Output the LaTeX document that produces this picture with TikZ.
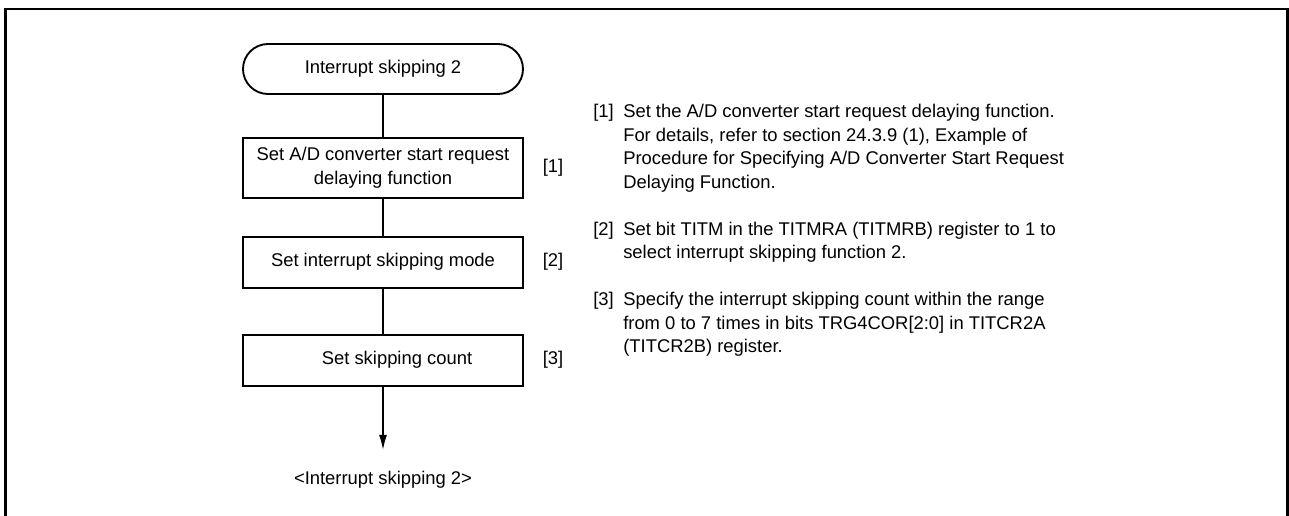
\documentclass[tikz,border=0pt]{standalone}
\usepackage{fontspec}
\setmainfont{Liberation Sans}
\usetikzlibrary{arrows.meta,positioning}
\begin{document}
\begin{tikzpicture}[>=Latex,x=0.75pt,y=-0.75pt,font=\fontsize{13.8pt}{17.6pt}\selectfont]
  \tikzstyle{box}=[draw,line width=1.4pt,minimum width=210pt,minimum height=38.25pt,align=center]
  \tikzstyle{term}=[box,rounded corners=18.75pt,minimum height=37.5pt]
  \tikzstyle{tag}=[inner sep=0pt]
  \tikzstyle{note}=[anchor=north west,inner sep=0pt,align=left]
  \useasboundingbox (0,0) rectangle (1289,516);
  \draw[line width=2pt] (5.4,516) -- (5.4,9) -- (1287.6,9) -- (1287.6,516);
  \node[term] (start) at (383,69) {Interrupt skipping 2};
  \node[box,minimum height=45pt,below=31.5pt of start] (delay) {Set A/D converter start request\\delaying function};
  \node[box,below=27.75pt of delay] (mode) {Set interrupt skipping mode};
  \node[box,below=33.75pt of mode] (count) {\hspace*{21pt}Set skipping count};
  \coordinate[below=47.25pt of count] (stop);
  \node[below=13pt of stop] (done) {<Interrupt skipping 2>};
  \node[tag,right=14pt of delay] (t1) {[1]};
  \node[tag,right=14pt of mode] (t2) {[2]};
  \node[tag,right=14pt of count] (t3) {[3]};
  \draw[line width=0.8pt] (start) -- (delay);
  \draw[line width=0.8pt] (delay) -- (mode);
  \draw[line width=0.8pt] (mode) -- (count);
  \draw[line width=0.8pt,arrows={->[length=11pt,width=6pt]}] (count) -- (stop);
  \node[note] (k1) at (593,101.3) {\strut[1]};
  \node[note] (n1) at (623,101.3) {\strut Set the A/D converter start request delaying function.\\For details, refer to section 24.3.9 (1), Example of\\Procedure for Specifying A/D Converter Start Request\\Delaying Function.};
  \node[note] (k2) at (593,218.8) {\strut[2]};
  \node[note] (n2) at (623,218.8) {\strut Set bit TITM in the TITMRA (TITMRB) register to 1 to\\select interrupt skipping function 2.};
  \node[note] (k3) at (593,289.3) {\strut[3]};
  \node[note] (n3) at (623,289.3) {\strut Specify the interrupt skipping count within the range\\from 0 to 7 times in bits TRG4COR[2:0] in TITCR2A\\(TITCR2B) register.};
\end{tikzpicture}
\end{document}
